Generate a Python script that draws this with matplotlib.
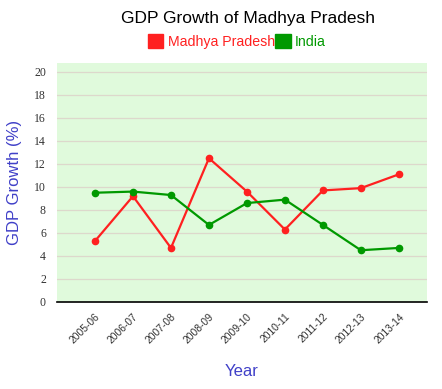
import matplotlib
matplotlib.use("Agg")
import matplotlib.pyplot as plt
import matplotlib.transforms as mtransforms
from matplotlib.patches import Patch

years = ["2005-06", "2006-07", "2007-08", "2008-09", "2009-10",
         "2010-11", "2011-12", "2012-13", "2013-14"]
mp_growth = [5.3, 9.2, 4.7, 12.5, 9.6, 6.3, 9.7, 9.9, 11.1]
india_growth = [9.5, 9.6, 9.3, 6.7, 8.6, 8.9, 6.7, 4.5, 4.7]
y_ticks = list(range(0, 21, 2))

RED = "#ff2020"
GREEN = "#009900"
AXIS_BLUE = "#4040c8"

fig = plt.figure(figsize=(4.42, 3.89), dpi=100)
ax = fig.add_axes([0.129, 0.2237, 0.837, 0.6143])
ax.set_facecolor("#e0fadc")

x = list(range(len(years)))
ax.plot(x, mp_growth, color=RED, lw=1.6, marker="o", ms=4.5, zorder=3)
ax.plot(x, india_growth, color=GREEN, lw=1.6, marker="o", ms=4.5, zorder=3)

ax.set_xlim(-1, 8.74)
ax.set_ylim(0, 20.78)
ax.set_yticks(y_ticks)
ax.set_yticklabels([str(v) for v in y_ticks], fontfamily="Liberation Serif",
                   fontsize=8.5, color="#333333")
ax.set_xticks(x)
ax.set_xticklabels(years, rotation=45, ha="right", rotation_mode="anchor",
                   fontfamily="Liberation Sans", fontsize=7.4, color="#333333")
# nudge x labels a little to the left, like the original
shift = mtransforms.ScaledTranslation(-3 / 100, 0, fig.dpi_scale_trans)
for lbl in ax.get_xticklabels():
    lbl.set_transform(lbl.get_transform() + shift)
ax.tick_params(length=0)
ax.tick_params(axis="y", pad=8)
ax.tick_params(axis="x", pad=7)
ax.grid(axis="y", color="#ddd8cc", lw=0.9)
ax.set_axisbelow(True)
for s in ["top", "right", "left"]:
    ax.spines[s].set_visible(False)
ax.spines["bottom"].set_color("black")
ax.spines["bottom"].set_linewidth(1.2)

ax.set_ylabel("GDP Growth (%)", fontfamily="Liberation Sans", fontsize=12,
              color=AXIS_BLUE, labelpad=9)
ax.set_xlabel("Year", fontfamily="Liberation Sans", fontsize=12,
              color=AXIS_BLUE, labelpad=13)

fig.text(0.561, 0.953, "GDP Growth of Madhya Pradesh", ha="center", va="center",
         fontfamily="Liberation Sans", fontsize=12.5, color="black")

handles = [Patch(color=RED), Patch(color=GREEN)]
fig.legend(handles, ["Madhya Pradesh", "India"], ncol=2, loc="center",
           bbox_to_anchor=(0.536, 0.893), frameon=False,
           prop={"family": "Liberation Sans", "size": 10.2},
           labelcolor=[RED, GREEN], handlelength=1.1, handleheight=1.1,
           handletextpad=0.3, columnspacing=0.05)

plt.savefig("out.png", dpi=100)
